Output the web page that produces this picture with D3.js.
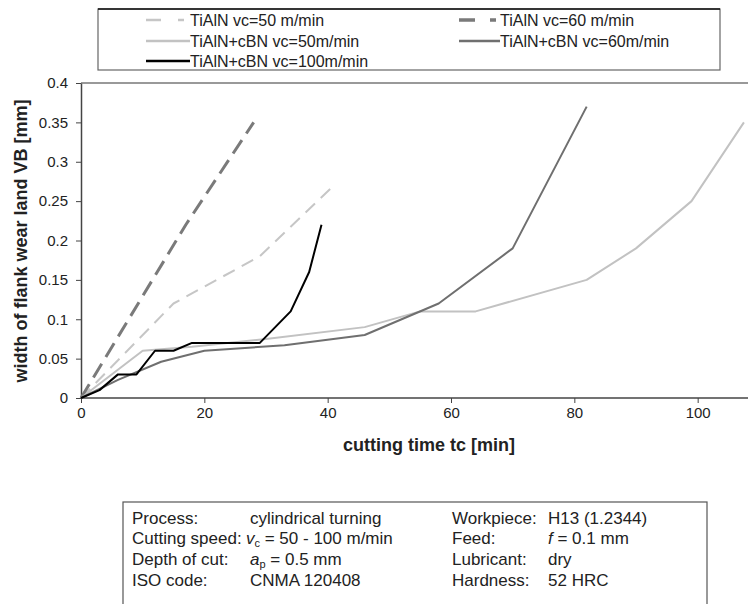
<!DOCTYPE html>
<html>
<head>
<meta charset="utf-8">
<script src="https://cdn.jsdelivr.net/npm/d3@7"></script>
<style>
  body { margin: 0; background: #fff; }
  text { font-family: "Liberation Sans", Arial, sans-serif; fill: #222; }
</style>
</head>
<body>
<div id="chart"></div>
<script>
// Series data (time in min, wear in mm)
const tialn50Time = [0, 15, 29, 41];
const tialn50Wear = [0, 0.12, 0.18, 0.27];

const tialn60Time = [0, 17, 28];
const tialn60Wear = [0, 0.22, 0.35];

const cbn50Time = [0, 10, 18, 30, 46, 55, 64, 82, 90, 99, 107.5];
const cbn50Wear = [0, 0.06, 0.065, 0.075, 0.09, 0.11, 0.11, 0.15, 0.19, 0.25, 0.35];

const cbn60Time = [0, 6, 13, 20, 33, 46, 58, 70, 82];
const cbn60Wear = [0, 0.023, 0.046, 0.06, 0.067, 0.08, 0.12, 0.19, 0.37];

const cbn100Time = [0, 3, 6, 9, 12, 15, 18, 29, 34, 37, 39];
const cbn100Wear = [0, 0.01, 0.03, 0.03, 0.06, 0.06, 0.07, 0.07, 0.11, 0.16, 0.22];

const xTicks = [0, 20, 40, 60, 80, 100];
const yTicks = [0, 0.05, 0.1, 0.15, 0.2, 0.25, 0.3, 0.35, 0.4];

const infoLeft = [
    ["Process:", "cylindrical turning"],
    ["Cutting speed:", "vc"],
    ["Depth of cut:", "ap"],
    ["ISO code:", "CNMA 120408"]
];
const infoRight = [
    ["Workpiece:", "H13 (1.2344)"],
    ["Feed:", "f"],
    ["Lubricant:", "dry"],
    ["Hardness:", "52 HRC"]
];

const zip = (t, w) => t.map((d, i) => ({ t: d, w: w[i] }));

const series = [
    { name: "TiAlN vc=50 m/min", data: zip(tialn50Time, tialn50Wear), color: "#c6c6c6", width: 2, dash: "13,8", legendDash: "15,17,6,20", col: 0, row: 0 },
    { name: "TiAlN vc=60 m/min", data: zip(tialn60Time, tialn60Wear), color: "#7a7a7a", width: 3, dash: "16,8", legendDash: "16,15,6,20", col: 1, row: 0 },
    { name: "TiAlN+cBN vc=50m/min", data: zip(cbn50Time, cbn50Wear), color: "#c2c2c2", width: 2, dash: null, col: 0, row: 1 },
    { name: "TiAlN+cBN vc=60m/min", data: zip(cbn60Time, cbn60Wear), color: "#6f6f6f", width: 2, dash: null, col: 1, row: 1 },
    { name: "TiAlN+cBN vc=100m/min", data: zip(cbn100Time, cbn100Wear), color: "#000000", width: 2, dash: null, col: 0, row: 2 }
];

const W = 748, H = 604;
const svg = d3.select("#chart")
    .append("svg")
    .attr("width", W)
    .attr("height", H);

// plot area
const x = d3.scaleLinear().domain([0, 108]).range([81, 747]);
const y = d3.scaleLinear().domain([0, 0.4]).range([398, 83]);

// top border of the plot
svg.append("line")
    .attr("x1", x(0)).attr("x2", W)
    .attr("y1", y(0.4)).attr("y2", y(0.4))
    .attr("stroke", "#777").attr("stroke-width", 1.5);

const xAxis = svg.append("g")
    .attr("transform", `translate(0,${y(0)})`)
    .call(d3.axisBottom(x).tickValues(xTicks).tickSize(5).tickSizeOuter(0).tickPadding(4));

const yAxis = svg.append("g")
    .attr("transform", `translate(${x(0)},0)`)
    .call(d3.axisLeft(y).tickValues(yTicks).tickSize(5).tickSizeOuter(0).tickPadding(8)
        .tickFormat(d => String(+d.toFixed(2))));

[xAxis, yAxis].forEach(a => {
    a.select(".domain").attr("stroke", "#444").attr("stroke-width", 1.5);
    a.selectAll(".tick line").attr("stroke", "#444");
    a.selectAll(".tick text").style("font-size", "15px").attr("fill", "#222");
});
xAxis.select(".domain").attr("d", `M${x(0)},0H${W}`);

// axis labels
svg.append("text")
    .attr("x", 429)
    .attr("y", 451)
    .attr("text-anchor", "middle")
    .style("font-size", "18px")
    .style("font-weight", "bold")
    .text("cutting time tc [min]");

svg.append("text")
    .attr("transform", "rotate(-90)")
    .attr("x", -241)
    .attr("y", 27)
    .attr("text-anchor", "middle")
    .style("font-size", "18px")
    .style("font-weight", "bold")
    .text("width of flank wear land VB [mm]");

// lines
const line = d3.line()
    .x(d => x(d.t))
    .y(d => y(d.w));

series.forEach(s => {
    svg.append("path")
        .datum(s.data)
        .attr("fill", "none")
        .attr("stroke", s.color)
        .attr("stroke-width", s.width)
        .attr("stroke-dasharray", s.dash)
        .attr("stroke-linejoin", "round")
        .attr("d", line);
});

// legend box
svg.append("rect")
    .attr("x", 98).attr("y", 9)
    .attr("width", 622).attr("height", 61)
    .attr("fill", "#fff")
    .attr("stroke", "#666").attr("stroke-width", 1.2);
svg.append("line")
    .attr("x1", 98).attr("x2", 720).attr("y1", 9).attr("y2", 9)
    .attr("stroke", "#111").attr("stroke-width", 1.6);

const legendCols = [{ x0: 146, xt: 190 }, { x0: 459, xt: 500 }];
const legendRows = [20, 41, 61];

series.forEach(s => {
    const c = legendCols[s.col];
    const ry = legendRows[s.row];
    svg.append("line")
        .attr("x1", c.x0).attr("x2", c.xt)
        .attr("y1", ry).attr("y2", ry)
        .attr("stroke", s.color)
        .attr("stroke-width", s.width + 0.5)
        .attr("stroke-dasharray", s.legendDash || null);
    svg.append("text")
        .attr("x", c.xt)
        .attr("y", ry)
        .attr("dy", "0.35em")
        .style("font-size", "16px")
        .text(s.name);
});

// info box
svg.append("rect")
    .attr("x", 123).attr("y", 502)
    .attr("width", 584).attr("height", 120)
    .attr("fill", "#fff")
    .attr("stroke", "#555").attr("stroke-width", 1.2);

const infoRows = [518, 538, 559, 580];

function addValue(sel, key) {
    if (key === "vc") {
        sel.append("tspan").style("font-style", "italic").text("v");
        sel.append("tspan").attr("dy", 3).style("font-size", "11px").text("c");
        sel.append("tspan").attr("dy", -3).text(" = 50 - 100 m/min");
    } else if (key === "ap") {
        sel.append("tspan").style("font-style", "italic").text("a");
        sel.append("tspan").attr("dy", 3).style("font-size", "11px").text("p");
        sel.append("tspan").attr("dy", -3).text(" = 0.5 mm");
    } else if (key === "f") {
        sel.append("tspan").style("font-style", "italic").text("f");
        sel.append("tspan").text(" = 0.1 mm");
    } else {
        sel.text(key);
    }
}

infoLeft.forEach((r, i) => {
    svg.append("text")
        .attr("x", 132).attr("y", infoRows[i]).attr("dy", "0.35em")
        .style("font-size", "17px").text(r[0]);
    const t = svg.append("text")
        .attr("x", i === 1 ? 246 : 250).attr("y", infoRows[i]).attr("dy", "0.35em")
        .style("font-size", "17px");
    addValue(t, r[1]);
});

infoRight.forEach((r, i) => {
    svg.append("text")
        .attr("x", 452).attr("y", infoRows[i]).attr("dy", "0.35em")
        .style("font-size", "17px").text(r[0]);
    const t = svg.append("text")
        .attr("x", 548).attr("y", infoRows[i]).attr("dy", "0.35em")
        .style("font-size", "17px");
    addValue(t, r[1]);
});
</script>
</body>
</html>
